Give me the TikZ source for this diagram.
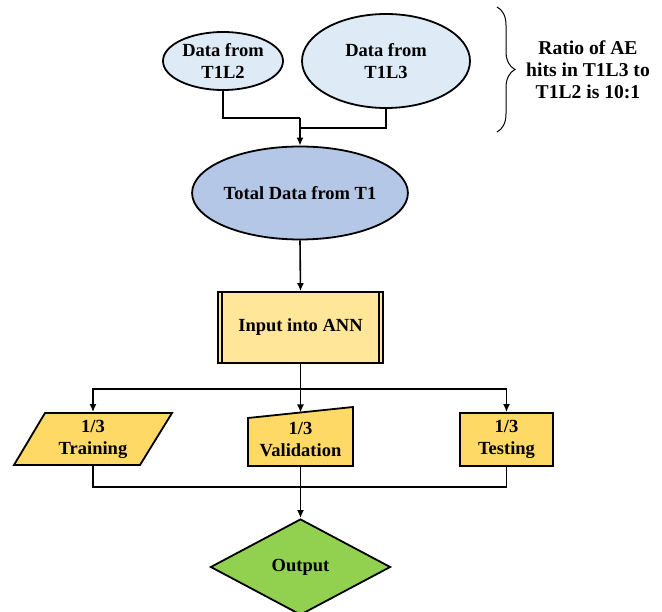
\documentclass[tikz,border=0pt]{standalone}
\usepackage{fontspec}
\setmainfont{Liberation Serif}
\usetikzlibrary{shapes.geometric,arrows.meta,calc,decorations.pathreplacing}
\definecolor{lblue}{HTML}{DEEBF7}
\definecolor{mblue}{HTML}{B4C7E7}
\definecolor{lyel}{HTML}{FFE699}
\definecolor{yel}{HTML}{FFD966}
\definecolor{grn}{HTML}{92D050}
\begin{document}
\begin{tikzpicture}[x=1pt,y=-1pt, line width=1.8pt,
  txt/.style={font=\bfseries\fontsize{18.5}{22}\selectfont, align=center, text=black},
  arr/.style={-{Latex[length=8pt,width=7pt]}, line width=1.6pt},
  ln/.style={line width=1.6pt},
  shp/.style={draw=black, fill=yel, line width=1.8pt}]
\useasboundingbox (0,0) rectangle (662,612);

\node[ellipse, draw, fill=lblue, minimum width=120pt, minimum height=58pt, inner sep=0, txt] (a) at (223,61) {Data from\\T1L2};
\node[ellipse, draw, fill=lblue, minimum width=168pt, minimum height=94pt, inner sep=0, txt] (b) at (386,61) {Data from\\T1L3};
\node[ellipse, draw, fill=mblue, minimum width=203pt, minimum height=93pt, inner sep=0, txt] (t) at (300,193) {Total Data from T1};

\coordinate (j1) at (300,118);
\coordinate (j2) at (300,128);
\draw[ln] (a.south) |- (j1);
\draw[ln] (b.south) |- (j2);
\draw[arr] (j1) -- (t.north);

\node[draw, fill=lyel, minimum width=165pt, minimum height=71pt, inner sep=0, txt] (in) at (300.5,327.5) {Input into ANN};
\draw ([xshift=5pt]in.north west) -- ([xshift=5pt]in.south west);
\draw ([xshift=-5pt]in.north east) -- ([xshift=-5pt]in.south east);
\draw[arr] (t.south) -- (in.north);

% training (parallelogram)
\draw[shp] (45,413) -- (172,413) -- (140,465) -- (14,465) -- cycle;
\node[minimum width=158pt, minimum height=52pt, inner sep=0, txt] (tr) at (93,439) {1/3\\Training};

% validation (manual input)
\coordinate (vtl) at (248,418);
\coordinate (vtr) at (353,407);
\coordinate (vt) at ($(vtl)!0.5!(vtr)$);
\draw[shp] (vtl) -- (vtr) -- (353,466) -- (248,466) -- cycle;
\node[minimum width=105pt, minimum height=59pt, inner sep=0] (va) at (300.5,436.5) {};
\node[txt] at (300.5,440) {1/3\\Validation};

% testing
\node[draw, fill=yel, minimum width=93pt, minimum height=53pt, inner sep=0, txt] (te) at (506.5,439.5) {1/3\\Testing};

\coordinate (s) at (300.5,389);
\draw[ln] (in.south) -- (s);
\draw[arr] (s) -| (tr.north);
\draw[arr] (s) -| (te.north);
\draw[arr] (s) -- (vt);

% output
\node[diamond, draw, fill=grn, minimum width=180pt, minimum height=96pt, inner sep=0, txt] (out) at (300.5,567) {Output};
\coordinate (m) at (300.5,487);
\draw[ln] (tr.south) |- (m);
\draw[ln] (te.south) |- (m);
\draw[arr] (va.south) -- (out.north);

% brace
\coordinate (bt) at (497,7);
\coordinate (bb) at (497,132);
\draw[line width=1pt, decorate, decoration={brace, amplitude=18pt}] (bt) -- (bb);
\node[font=\bfseries\fontsize{19.6}{22}\selectfont, align=center] (r) at (588,70) {Ratio of AE\\hits in T1L3 to\\T1L2 is 10:1};
\end{tikzpicture}
\end{document}
